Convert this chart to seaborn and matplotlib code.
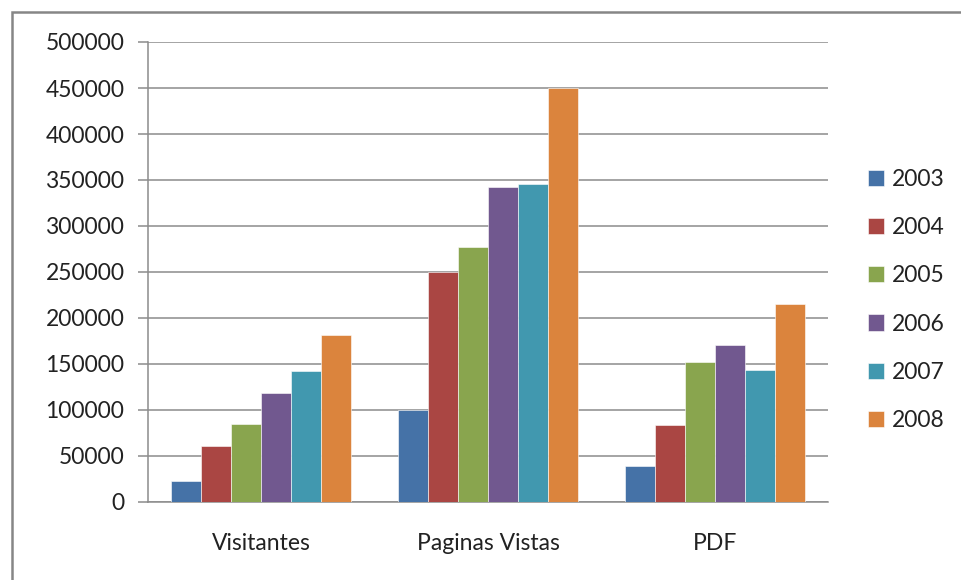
import pandas as pd
import matplotlib
matplotlib.use("Agg")
import matplotlib.pyplot as plt
from matplotlib.patches import Rectangle
import seaborn as sns

# data
categorias = ["Visitantes", "Paginas Vistas", "PDF"]
anos = ["2003", "2004", "2005", "2006", "2007", "2008"]
v2003 = [22500, 100500, 39500]
v2004 = [60500, 250500, 83700]
v2005 = [85000, 277500, 152000]
v2006 = [119000, 342700, 170300]
v2007 = [142400, 345700, 143800]
v2008 = [181500, 450000, 215000]
yticks = [0, 50000, 100000, 150000, 200000, 250000, 300000, 350000, 400000, 450000, 500000]

colores = ["#4572A7", "#AA4643", "#89A54E", "#71588F", "#4198AF", "#DB843D"]

rows = []
for ano, vals in zip(anos, [v2003, v2004, v2005, v2006, v2007, v2008]):
    for cat, v in zip(categorias, vals):
        rows.append({"categoria": cat, "ano": ano, "valor": v})
df = pd.DataFrame(rows)

sns.set_style("white")
plt.rcParams["font.family"] = ["Lato", "DejaVu Sans"]

fig = plt.figure(figsize=(9.61, 5.8), dpi=100)
ax = fig.add_axes([148 / 961, 78 / 580, 680 / 961, 460 / 580])

sns.barplot(data=df, x="categoria", y="valor", hue="ano", order=categorias,
            hue_order=anos, palette=colores, saturation=1, width=0.794,
            edgecolor="white", linewidth=0.4, ax=ax, zorder=3)

handles, labels = ax.get_legend_handles_labels()
ax.get_legend().remove()

grid_c = "#8c8c8c"
ax.set_ylim(0, 500000)
ax.set_yticks(yticks)
ax.set_yticklabels([str(t) for t in yticks], fontsize=16.5, color="#222222")
ax.yaxis.grid(True, color=grid_c, lw=1.1, zorder=0)
ax.set_axisbelow(True)

ax.set_xlim(-0.5, 2.5)
ax.set_xticks([-0.5, 0.5, 1.5, 2.5])
ax.set_xticklabels([])
ax.set_xticks([0, 1, 2], minor=True)
ax.set_xticklabels(categorias, minor=True, fontsize=16.5, color="#222222")
ax.tick_params(axis="x", which="minor", length=0, pad=22)
ax.tick_params(axis="x", which="major", length=7, width=1.1, color=grid_c, direction="out")
ax.tick_params(axis="y", length=7, width=1.1, color=grid_c, pad=10, left=True)
ax.set_xlabel("")
ax.set_ylabel("")

for s in ["top", "right"]:
    ax.spines[s].set_visible(False)
for s in ["left", "bottom"]:
    ax.spines[s].set_color(grid_c)
    ax.spines[s].set_linewidth(1.1)

fig.legend(handles, labels, loc="center left", bbox_to_anchor=(868 / 961, 1 - 300 / 580),
           frameon=False, fontsize=16.5, handlelength=0.7, handleheight=0.7,
           handletextpad=0.35, labelspacing=1.18, borderpad=0, borderaxespad=0,
           labelcolor="#222222")

# outer chart border (only left and top sides fall inside the image)
fig.add_artist(Rectangle((12 / 961, -0.1), 1.2, 1.1 - 12 / 580, transform=fig.transFigure,
                         fill=False, edgecolor="#868686", linewidth=1.8))

fig.savefig("out.png", dpi=100)
